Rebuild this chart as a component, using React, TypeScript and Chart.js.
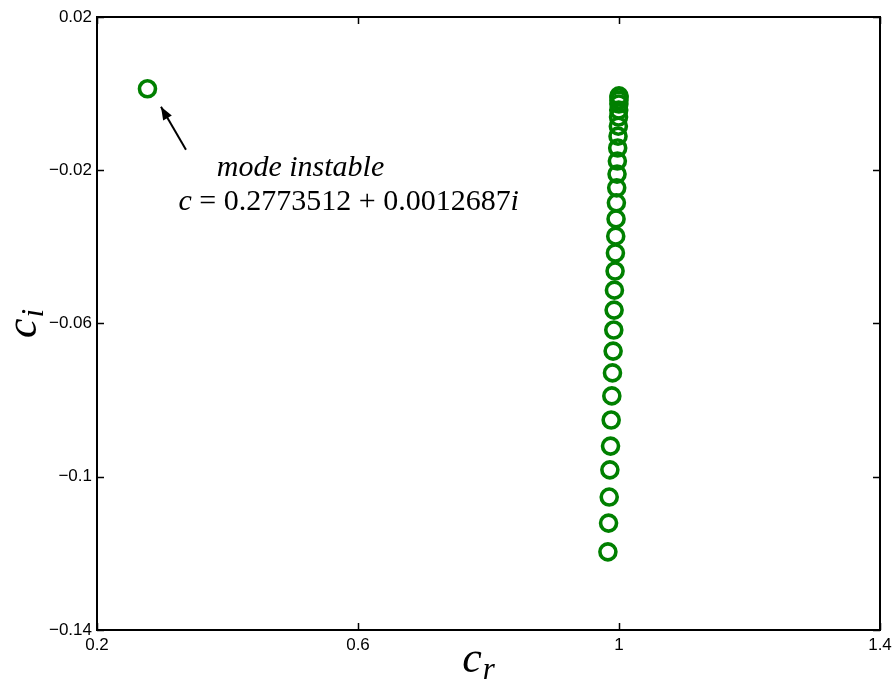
import React, { useEffect, useRef } from 'react';
import { Chart, registerables } from 'chart.js';

Chart.register(...registerables);

// ---- data ----
const xTickValues = [0.2, 0.6, 1, 1.4];
const xTickLabels = ['0.2', '0.6', '1', '1.4'];
const yTickValues = [-0.14, -0.1, -0.06, -0.02, 0.02];
const yTickLabels = ['\u22120.14', '\u22120.1', '\u22120.06', '\u22120.02', '0.02'];

const spectrumCr = [
  0.983, 0.984, 0.985, 0.986, 0.987, 0.988, 0.989, 0.99, 0.991, 0.992,
  0.9925, 0.993, 0.994, 0.9945, 0.995, 0.9955, 0.996, 0.9965, 0.997, 0.9975,
  0.998, 0.9985, 0.999, 0.9993, 0.9996, 0.9998, 0.9999, 1.0, 1.0,
];
const spectrumCi = [
  -0.1196, -0.1121, -0.1053, -0.0982, -0.092, -0.0852, -0.0789, -0.0729, -0.0672, -0.0617,
  -0.0565, -0.0513, -0.0463, -0.0416, -0.0372, -0.0327, -0.0285, -0.0246, -0.021, -0.0176,
  -0.0142, -0.0111, -0.0085, -0.0061, -0.0043, -0.0027, -0.0017, -0.0009, -0.0006,
];
const unstableCr = [0.2773512];
const unstableCi = [0.0012687];

const annotationTitle = 'mode instable';
const annotationValue = ' = 0.2773512 + 0.0012687';

const GREEN = '#008000';

const framePlugin = {
  id: 'frame',
  beforeDraw(chart: any) {
    const ctx = chart.ctx;
    ctx.save();
    ctx.fillStyle = '#ffffff';
    ctx.fillRect(0, 0, chart.width, chart.height);
    ctx.restore();
  },
  afterDraw(chart: any) {
    const ctx = chart.ctx;
    const { left, right, top, bottom } = chart.chartArea;
    const xs = chart.scales.x;
    const ys = chart.scales.y;
    ctx.save();
    // box
    ctx.strokeStyle = '#000';
    ctx.lineWidth = 2;
    ctx.strokeRect(left, top, right - left, bottom - top);
    // inward ticks on all sides
    ctx.lineWidth = 1.5;
    const tl = 7;
    ctx.beginPath();
    xTickValues.forEach((v) => {
      const px = Math.round(xs.getPixelForValue(v)) + 0.5;
      ctx.moveTo(px, bottom);
      ctx.lineTo(px, bottom - tl);
      ctx.moveTo(px, top);
      ctx.lineTo(px, top + tl);
    });
    yTickValues.forEach((v) => {
      const py = Math.round(ys.getPixelForValue(v)) + 0.5;
      ctx.moveTo(left, py);
      ctx.lineTo(left + tl, py);
      ctx.moveTo(right, py);
      ctx.lineTo(right - tl, py);
    });
    ctx.stroke();

    // axis titles
    ctx.fillStyle = '#000';
    ctx.textBaseline = 'alphabetic';
    const bigFont = "italic 44px 'Liberation Serif'";
    const subFont = "italic 31px 'Liberation Serif'";
    // x title c_r
    ctx.font = bigFont;
    const wc = ctx.measureText('c').width;
    ctx.font = subFont;
    const wr = ctx.measureText('r').width;
    const cx = (left + right) / 2 - (wc + wr + 1) / 2 - 10;
    const baseX = 672;
    ctx.font = bigFont;
    ctx.textAlign = 'left';
    ctx.fillText('c', cx, baseX);
    ctx.font = subFont;
    ctx.fillText('r', cx + wc + 1, baseX + 7);
    // y title c_i (rotated)
    ctx.save();
    const cy = (top + bottom) / 2;
    ctx.translate(36, cy);
    ctx.rotate(-Math.PI / 2);
    ctx.font = bigFont;
    const wc2 = ctx.measureText('c').width;
    ctx.font = subFont;
    const wi = ctx.measureText('i').width;
    const sx = -(wc2 + wi + 1) / 2;
    ctx.font = bigFont;
    ctx.fillText('c', sx, 0);
    ctx.font = subFont;
    ctx.fillText('i', sx + wc2 + 1, 7);
    ctx.restore();

    // annotation anchored to the unstable mode
    const px = xs.getPixelForValue(unstableCr[0]);
    const py = ys.getPixelForValue(unstableCi[0]);
    const tipX = px + 13.5, tipY = py + 18;
    const tailX = px + 38.5, tailY = py + 61;
    ctx.strokeStyle = '#000';
    ctx.lineWidth = 2;
    ctx.beginPath();
    ctx.moveTo(tailX, tailY);
    ctx.lineTo(tipX, tipY);
    ctx.stroke();
    const ang = Math.atan2(tipY - tailY, tipX - tailX);
    const ah = 13, aw = 5;
    ctx.beginPath();
    ctx.moveTo(tipX, tipY);
    ctx.lineTo(tipX - ah * Math.cos(ang) + aw * Math.sin(ang), tipY - ah * Math.sin(ang) - aw * Math.cos(ang));
    ctx.lineTo(tipX - ah * Math.cos(ang) - aw * Math.sin(ang), tipY - ah * Math.sin(ang) + aw * Math.cos(ang));
    ctx.closePath();
    ctx.fillStyle = '#000';
    ctx.fill();

    ctx.font = "italic 30px 'Liberation Serif'";
    ctx.textAlign = 'center';
    ctx.fillText(annotationTitle, px + 153, py + 87);

    ctx.textAlign = 'left';
    let ex = px + 31;
    const ey = py + 121;
    ctx.font = "italic 30px 'Liberation Serif'";
    ctx.fillText('c', ex, ey);
    ex += ctx.measureText('c').width;
    ctx.font = "30px 'Liberation Serif'";
    ctx.fillText(annotationValue, ex, ey);
    ex += ctx.measureText(annotationValue).width;
    ctx.font = "italic 30px 'Liberation Serif'";
    ctx.fillText('i', ex, ey);
    ctx.restore();
  },
};

export default function App() {
  const ref = useRef<HTMLCanvasElement | null>(null);
  useEffect(() => {
    if (!ref.current) return;
    const chart = new Chart(ref.current, {
      type: 'scatter',
      data: {
        datasets: [
          {
            label: 'spectrum',
            data: spectrumCr.map((x, i) => ({ x, y: spectrumCi[i] })),
            pointStyle: 'circle',
            pointRadius: 8,
            pointHoverRadius: 8,
            borderWidth: 3.6,
            borderColor: GREEN,
            backgroundColor: 'rgba(0,0,0,0)',
          },
          {
            label: 'unstable',
            data: unstableCr.map((x, i) => ({ x, y: unstableCi[i] })),
            pointStyle: 'circle',
            pointRadius: 8,
            pointHoverRadius: 8,
            borderWidth: 3.6,
            borderColor: GREEN,
            backgroundColor: 'rgba(0,0,0,0)',
          },
        ],
      },
      options: {
        animation: false,
        responsive: false,
        maintainAspectRatio: false,
        events: [],
        layout: { padding: { top: 17, right: 14, left: 0, bottom: 0 } },
        plugins: {
          legend: { display: false },
          tooltip: { enabled: false },
          title: { display: false },
        },
        scales: {
          x: {
            type: 'linear',
            min: 0.2,
            max: 1.4,
            grid: { display: false, drawTicks: false },
            border: { display: false },
            afterBuildTicks: (s: any) => {
              s.ticks = xTickValues.map((value) => ({ value }));
            },
            afterFit: (s: any) => {
              s.height = 56;
              s.paddingLeft = 0;
              s.paddingRight = 0;
            },
            ticks: {
              color: '#000',
              padding: 5,
              maxRotation: 0,
              autoSkip: false,
              font: { family: "'Liberation Sans', Arial, sans-serif", size: 17 },
              callback: (v: any) => {
                const i = xTickValues.findIndex((t) => Math.abs(t - v) < 1e-9);
                return i >= 0 ? xTickLabels[i] : '';
              },
            },
          },
          y: {
            type: 'linear',
            min: -0.14,
            max: 0.02,
            grid: { display: false, drawTicks: false },
            border: { display: false },
            afterBuildTicks: (s: any) => {
              s.ticks = yTickValues.map((value) => ({ value }));
            },
            afterFit: (s: any) => {
              s.width = 97;
              s.paddingTop = 0;
              s.paddingBottom = 0;
            },
            ticks: {
              color: '#000',
              padding: 5,
              autoSkip: false,
              font: { family: "'Liberation Sans', Arial, sans-serif", size: 17 },
              callback: (v: any) => {
                const i = yTickValues.findIndex((t) => Math.abs(t - v) < 1e-9);
                return i >= 0 ? yTickLabels[i] : '';
              },
            },
          },
        },
      },
      plugins: [framePlugin],
    } as any);
    return () => chart.destroy();
  }, []);
  return (
    <div style={{ position: 'fixed', left: 0, top: 0, width: 894, height: 686, background: '#fff' }}>
      <canvas ref={ref} width={894} height={686} style={{ width: 894, height: 686, display: 'block' }} />
    </div>
  );
}
